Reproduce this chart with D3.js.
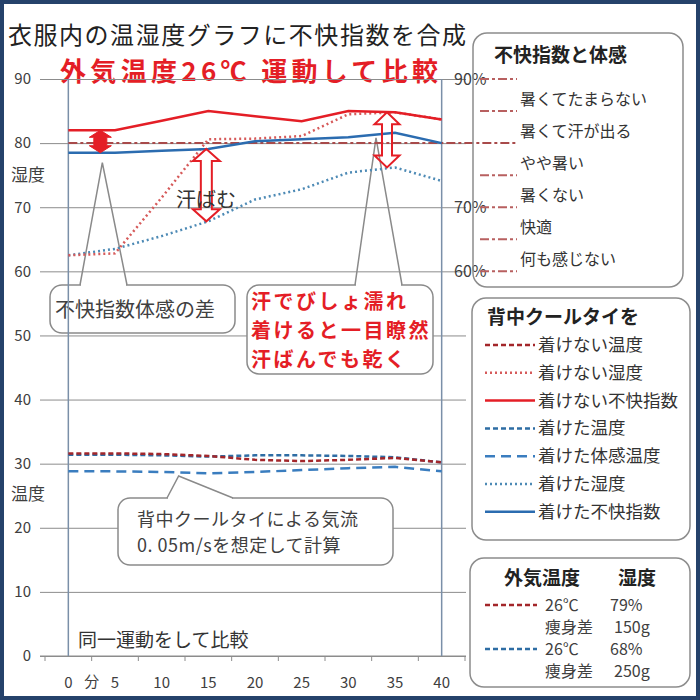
<!DOCTYPE html>
<html lang="ja">
  <head>
    <meta charset="UTF-8" />
    <title>衣服内の温湿度グラフ</title>
    <style>
      body { margin: 0; background: #fff; }
      svg { display: block; font-family: "Noto Sans CJK JP", sans-serif; }
    </style>
  </head>
  <body>
    <svg id="chart"></svg>
    <script src="https://cdnjs.cloudflare.com/ajax/libs/d3/7.8.5/d3.min.js"></script>
    <script>
      // 経過時間（分）
      const minutes = ["0", "5", "10", "15", "20", "25", "30", "35", "40"];

      // 背中クールタイを着けない
      const tempNoTie = [31.6, 31.6, 31.5, 31.2, 30.6, 30.4, 30.6, 30.9, 30.2];
      const humNoTie = [62.5, 62.8, 71.5, 80.6, 80.7, 81.1, 84.5, 84.8, 83.7];
      const diNoTie = [82, 82, 83.5, 85, 84.2, 83.4, 85, 84.8, 83.7];

      // 背中クールタイを着けた
      const tempTie = [31.4, 31.4, 31.3, 31.1, 31.3, 31.3, 31.2, 31.0, 30.2];
      const feltTie = [28.8, 28.8, 28.7, 28.5, 28.7, 29.0, 29.3, 29.5, 28.8];
      const humTie = [62.5, 63.5, 65.5, 67.8, 71.2, 72.8, 75.4, 76.2, 74.1];
      const diTie = [78.5, 78.5, 78.8, 79.1, 80.3, 80.6, 80.9, 81.6, 80];

      const yTicks = [0, 10, 20, 30, 40, 50, 60, 70, 80, 90];
      const rightTicks = [60, 70, 90];

      // 不快指数と体感
      const comfortLevels = [90, 85, 80, 75, 70, 65, 60];
      const comfortLabels = ["暑くてたまらない", "暑くて汗が出る", "やや暑い", "暑くない", "快適", "何も感じない"];

      // 外気条件
      const outsideTemp = ["26℃", "26℃"];
      const outsideHum = ["79%", "68%"];
      const weightLoss = ["150g", "250g"];
    </script>
    <script>
      const width = 700,
        height = 700;
      const svg = d3.select("#chart").attr("width", width).attr("height", height);

      const RED = "#e41e26";

      // 凡例順のシリーズ表
      const series = [
        { name: "着けない温度", values: tempNoTie, color: "#a3262a", dash: "5,3", w: 2.5, z: 4 },
        { name: "着けない湿度", values: humNoTie, color: "#d65a5a", dash: "2,3", w: 2.5, z: 2 },
        { name: "着けない不快指数", values: diNoTie, color: RED, dash: null, w: 2.5, z: 7 },
        { name: "着けた温度", values: tempTie, color: "#2e6da4", dash: "5,3", w: 2.5, z: 3 },
        { name: "着けた体感温度", values: feltTie, color: "#3a7dbf", dash: "10,6", w: 2.5, z: 5 },
        { name: "着けた湿度", values: humTie, color: "#4d8ab5", dash: "2,3", w: 2.5, z: 1 },
        { name: "着けた不快指数", values: diTie, color: "#2b6cb0", dash: null, w: 2.5, z: 6 },
      ];

      const x = d3.scaleBand().domain(minutes).range([45, 465]);
      const xc = (d) => x(d) + x.bandwidth() / 2;
      const y = d3.scaleLinear().domain([0, 90]).range([656, 79]);

      // 外枠
      svg.append("rect")
        .attr("x", 2).attr("y", 2).attr("width", 696).attr("height", 696)
        .attr("fill", "#fff").attr("stroke", "#25426b").attr("stroke-width", 4);

      // タイトル
      svg.append("text").attr("x", 8).attr("y", 44)
        .attr("font-size", 24).attr("fill", "#222").attr("textLength", 458)
        .text("衣服内の温湿度グラフに不快指数を合成");
      svg.append("text").attr("x", 60).attr("y", 81)
        .attr("font-size", 26).attr("font-weight", "bold").attr("fill", RED).attr("textLength", 378)
        .text("外気温度26℃ 運動して比較");

      // 目盛線と左の目盛
      svg.append("g")
        .attr("transform", "translate(466,0)")
        .call(d3.axisLeft(y).tickValues(yTicks).tickSize(426).tickPadding(9))
        .attr("font-family", null)
        .call((g) => g.select(".domain").remove())
        .call((g) => g.selectAll("line").attr("stroke", "#8c8c8c"))
        .call((g) => g.selectAll("text").attr("font-size", 15).attr("fill", "#404040"));

      // 右の目盛（%）
      svg.append("g").selectAll("text").data(rightTicks).join("text")
        .attr("x", 454).attr("y", (d) => y(d) + 6)
        .attr("font-size", 16).attr("fill", "#404040")
        .text((d) => d + "%");

      // x軸
      const xAxisG = svg.append("g").attr("transform", `translate(0,${y(0)})`);
      xAxisG.append("line").attr("x1", 40).attr("x2", 466).attr("stroke", "#8c8c8c");
      xAxisG.selectAll(".tick-mark").data(minutes.map((d) => x(d)).concat([x.range()[1]])).join("line")
        .attr("class", "tick-mark")
        .attr("x1", (d) => d).attr("x2", (d) => d).attr("y1", 0).attr("y2", 5)
        .attr("stroke", "#8c8c8c");
      xAxisG.selectAll(".lbl").data(minutes).join("text")
        .attr("class", "lbl")
        .attr("x", (d) => xc(d)).attr("y", 32)
        .attr("text-anchor", "middle").attr("font-size", 15).attr("fill", "#404040")
        .text((d) => d);
      xAxisG.append("text").attr("x", x(minutes[1])).attr("y", 31)
        .attr("text-anchor", "middle").attr("font-size", 15).attr("fill", "#404040").text("分");

      // 軸ラベル
      svg.append("text").attr("x", 11).attr("y", 181).attr("font-size", 17).attr("fill", "#404040").text("湿度");
      svg.append("text").attr("x", 11).attr("y", 500).attr("font-size", 17).attr("fill", "#404040").text("温度");

      // 吹き出し
      function callout({ x0, y0, x1, y1, b1, b2, tip, lines, color, size, weight, lh, tx, ty, ls }) {
        const g = svg.append("g");
        g.append("rect")
          .attr("x", x0).attr("y", y0).attr("width", x1 - x0).attr("height", y1 - y0)
          .attr("rx", 12).attr("fill", "#fff").attr("stroke", "#8a8a8a").attr("stroke-width", 1.5);
        g.append("line").attr("x1", b1 + 1).attr("x2", b2 - 1).attr("y1", y0).attr("y2", y0)
          .attr("stroke", "#fff").attr("stroke-width", 3);
        g.append("polyline")
          .attr("points", [[b1, y0], tip, [b2, y0]].map((p) => p.join(",")).join(" "))
          .attr("fill", "none").attr("stroke", "#8a8a8a").attr("stroke-width", 1.5);
        g.selectAll("text").data(lines).join("text")
          .attr("x", tx).attr("y", (d, i) => ty + i * lh)
          .attr("font-size", size).attr("font-weight", weight).attr("fill", color)
          .attr("letter-spacing", ls || 0)
          .text((d) => d);
      }

      callout({
        x0: 50, y0: 285, x1: 235, y1: 333, b1: 80, b2: 127,
        tip: [xc("0") + 34, y(diTie[0]) + 10],
        lines: ["不快指数体感の差"], color: "#404040", size: 20, weight: "normal", lh: 0, tx: 55, ty: 317,
      });
      callout({
        x0: 247, y0: 285, x1: 433, y1: 374, b1: 355, b2: 402,
        tip: [xc("35") - 19, y(diTie[7]) + 5],
        lines: ["汗でびしょ濡れ", "着けると一目瞭然", "汗ばんでも乾く"],
        color: RED, size: 20, weight: "bold", lh: 29, tx: 251, ty: 309, ls: 2.5,
      });
      callout({
        x0: 118, y0: 498, x1: 393, y1: 565, b1: 167, b2: 233,
        tip: [xc("10") + 17, y(feltTie[2]) + 4],
        lines: ["背中クールタイによる気流", "0. 05m/sを想定して計算"],
        color: "#404040", size: 18, weight: "normal", lh: 26, tx: 137, ty: 526, ls: 0.5,
      });

      // 縦線（0分と40分）
      svg.append("g").selectAll("line").data([minutes[0], minutes[minutes.length - 1]]).join("line")
        .attr("x1", (d) => xc(d)).attr("x2", (d) => xc(d))
        .attr("y1", y(90)).attr("y2", y(0))
        .attr("stroke", "#7a8fa8").attr("stroke-width", 1.5);

      // 不快指数 80 の基準線
      const REF = "#a84a4a";
      svg.append("line")
        .attr("x1", xc(minutes[0])).attr("x2", 517).attr("y1", y(80)).attr("y2", y(80))
        .attr("stroke", REF).attr("stroke-width", 2).attr("stroke-dasharray", "9,3,3,3");

      // シリーズ
      const line = d3.line().x((d, i) => xc(minutes[i])).y((d) => y(d));
      svg.append("g").selectAll("path").data(series.slice().sort((a, b) => a.z - b.z)).join("path")
        .attr("d", (d) => line(d.values))
        .attr("fill", "none")
        .attr("stroke", (d) => d.color)
        .attr("stroke-width", (d) => d.w)
        .attr("stroke-dasharray", (d) => d.dash);

      // 両矢印
      function doubleArrow(cx, y1, y2, hw, hh, sw) {
        return `M${cx},${y1} L${cx + hw / 2},${y1 + hh} L${cx + sw / 2},${y1 + hh} L${cx + sw / 2},${y2 - hh}
          L${cx + hw / 2},${y2 - hh} L${cx},${y2} L${cx - hw / 2},${y2 - hh} L${cx - sw / 2},${y2 - hh}
          L${cx - sw / 2},${y1 + hh} L${cx - hw / 2},${y1 + hh} Z`;
      }
      svg.append("path")
        .attr("d", doubleArrow(xc("0") + 32, y(diNoTie[0]), y(diTie[0]), 22, 7, 13))
        .attr("fill", RED).attr("stroke", RED).attr("stroke-width", 1);
      svg.append("path")
        .attr("d", doubleArrow(xc("15") - 2, y(diTie[3]), y(humTie[3]), 27, 12, 11))
        .attr("fill", "none").attr("stroke", RED).attr("stroke-width", 2);
      svg.append("path")
        .attr("d", doubleArrow(xc("35") - 8, y(diNoTie[7]), y(humTie[7]), 25, 12, 10))
        .attr("fill", "none").attr("stroke", RED).attr("stroke-width", 2);

      svg.append("text").attr("x", 176).attr("y", 207).attr("font-size", 20).attr("fill", "#333").text("汗ばむ");
      svg.append("text").attr("x", 78).attr("y", 647).attr("font-size", 19).attr("fill", "#333").text("同一運動をして比較");

      // 凡例1：不快指数と体感
      const lg1 = svg.append("g");
      lg1.append("rect").attr("x", 473).attr("y", 33).attr("width", 210).attr("height", 254)
        .attr("rx", 14).attr("fill", "none").attr("stroke", "#8c8c8c").attr("stroke-width", 1.5);
      lg1.append("text").attr("x", 494).attr("y", 62).attr("font-size", 19).attr("font-weight", "bold")
        .attr("fill", "#222").text("不快指数と体感");
      lg1.selectAll(".lvl").data(comfortLevels.filter((d) => d !== 80)).join("line")
        .attr("class", "lvl")
        .attr("x1", 480).attr("x2", 517).attr("y1", (d) => y(d)).attr("y2", (d) => y(d))
        .attr("stroke", "#b86060").attr("stroke-width", 2).attr("stroke-dasharray", "9,3,3,3");
      lg1.selectAll(".clbl").data(comfortLabels).join("text")
        .attr("class", "clbl")
        .attr("x", 520)
        .attr("y", (d, i) => y((comfortLevels[i] + comfortLevels[i + 1]) / 2) + 10)
        .attr("font-size", 16).attr("fill", "#333")
        .text((d) => d);

      // 凡例2：背中クールタイを
      const lg2 = svg.append("g");
      lg2.append("rect").attr("x", 472).attr("y", 298).attr("width", 218).attr("height", 242)
        .attr("rx", 14).attr("fill", "#fff").attr("stroke", "#8c8c8c").attr("stroke-width", 1.5);
      lg2.append("text").attr("x", 487).attr("y", 324).attr("font-size", 19).attr("font-weight", "bold")
        .attr("fill", "#222").text("背中クールタイを");
      const rowY = (i) => 345 + i * 27.8;
      lg2.selectAll(".sw").data(series).join("line")
        .attr("class", "sw")
        .attr("x1", 485).attr("x2", 535).attr("y1", (d, i) => rowY(i)).attr("y2", (d, i) => rowY(i))
        .attr("stroke", (d) => d.color).attr("stroke-width", (d) => d.w)
        .attr("stroke-dasharray", (d) => d.dash);
      lg2.selectAll(".nm").data(series).join("text")
        .attr("class", "nm")
        .attr("x", 538).attr("y", (d, i) => rowY(i) + 6)
        .attr("font-size", 17.5).attr("fill", "#333")
        .text((d) => d.name);

      // 凡例3：外気温度と湿度
      const lg3 = svg.append("g");
      lg3.append("rect").attr("x", 470).attr("y", 558).attr("width", 220).attr("height", 129)
        .attr("rx", 14).attr("fill", "#fff").attr("stroke", "#8c8c8c").attr("stroke-width", 1.5);
      lg3.append("text").attr("x", 504).attr("y", 585).attr("font-size", 19).attr("font-weight", "bold")
        .attr("fill", "#222").text("外気温度");
      lg3.append("text").attr("x", 618).attr("y", 585).attr("font-size", 19).attr("font-weight", "bold")
        .attr("fill", "#222").text("湿度");
      const condColors = [series[0], series[3]];
      outsideTemp.forEach((t, i) => {
        const yy = 605 + i * 44;
        lg3.append("line").attr("x1", 485).attr("x2", 537).attr("y1", yy).attr("y2", yy)
          .attr("stroke", condColors[i].color).attr("stroke-width", 2.5).attr("stroke-dasharray", "5,3");
        lg3.append("text").attr("x", 545).attr("y", yy + 6).attr("font-size", 16).attr("fill", "#404040").text(t);
        lg3.append("text").attr("x", 610).attr("y", yy + 6).attr("font-size", 16).attr("fill", "#404040").text(outsideHum[i]);
        lg3.append("text").attr("x", 545).attr("y", yy + 28).attr("font-size", 16).attr("fill", "#404040").text("痩身差");
        lg3.append("text").attr("x", 614).attr("y", yy + 28).attr("font-size", 16).attr("fill", "#404040").text(weightLoss[i]);
      });
    </script>
  </body>
</html>
